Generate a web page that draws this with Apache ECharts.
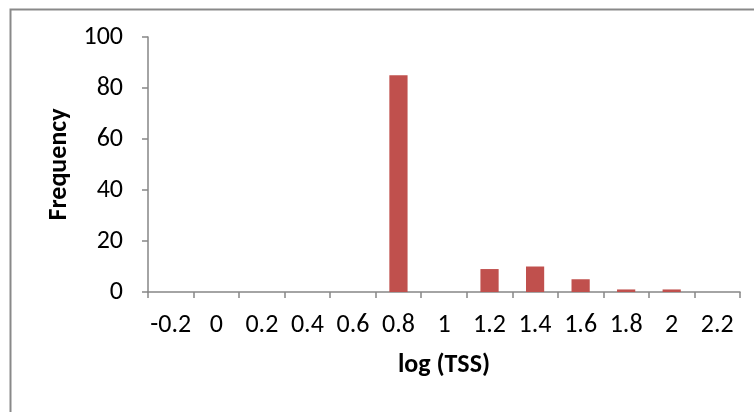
<!DOCTYPE html>
<html>
<head>
<meta charset="utf-8">
<script src="https://cdn.jsdelivr.net/npm/echarts@6/dist/echarts.min.js"></script>
<style>
html,body{margin:0;padding:0;background:#fff;}
#chart{width:754px;height:412px;}
</style>
</head>
<body>
<div id="chart"></div>
<script>
var categories = ['-0.2','0','0.2','0.4','0.6','0.8','1','1.2','1.4','1.6','1.8','2','2.2'];
var frequency = [0,0,0,0,0,85,0,9,10,5,1,1,0];
var yTicks = [0,20,40,60,80,100];

var FONT = 'Carlito, "Liberation Sans Narrow", "Open Sans", sans-serif';
var chart = echarts.init(document.getElementById('chart'), null, {renderer:'canvas'});
chart.setOption({
  animation:false,
  backgroundColor:'#ffffff',
  graphic:[{
    type:'rect', left:8, top:7,
    shape:{width:800,height:500},
    style:{fill:'none', stroke:'#898989', lineWidth:2}
  }],
  grid:{left:148, top:37, right:14, bottom:120, containLabel:false},
  xAxis:{
    type:'category',
    data:categories,
    boundaryGap:true,
    name:'log (TSS)',
    nameLocation:'middle',
    nameGap:60,
    nameTextStyle:{fontFamily:FONT, fontSize:26, fontWeight:'bold', color:'#000'},
    axisLine:{lineStyle:{color:'#868686', width:1.5}},
    axisTick:{show:true, length:6, interval:0, lineStyle:{color:'#868686', width:1.5}},
    axisLabel:{interval:0, margin:20, fontFamily:FONT, fontSize:26, color:'#000'},
    splitLine:{show:false}
  },
  yAxis:{
    type:'value',
    min:yTicks[0], max:yTicks[yTicks.length-1], interval:20,
    name:'Frequency',
    nameLocation:'middle',
    nameGap:74,
    nameRotate:90,
    nameTextStyle:{fontFamily:FONT, fontSize:26, fontWeight:'bold', color:'#000'},
    axisLine:{show:true, lineStyle:{color:'#868686', width:1.5}},
    axisTick:{show:true, length:6, lineStyle:{color:'#868686', width:1.5}},
    axisLabel:{margin:25, fontFamily:FONT, fontSize:26, color:'#000'},
    splitLine:{show:false}
  },
  series:[{
    type:'bar',
    data:frequency,
    barWidth:'40%',
    itemStyle:{color:'#C0504D'}
  }]
});
</script>
</body>
</html>
